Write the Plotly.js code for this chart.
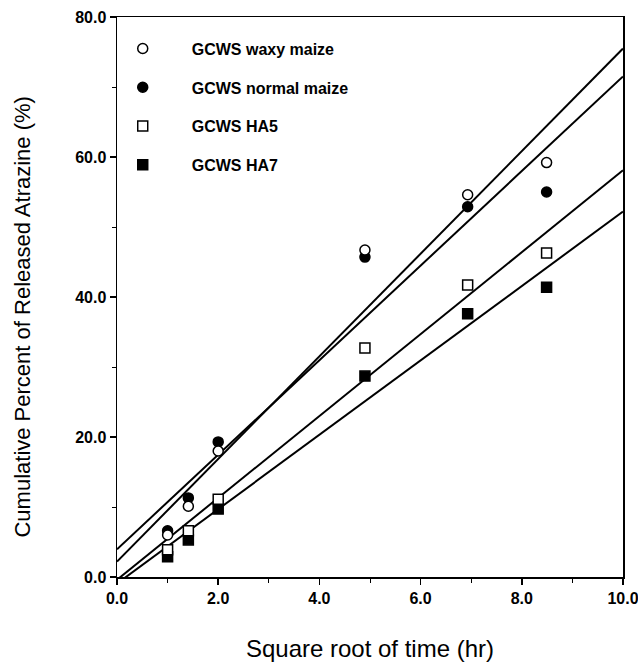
<!DOCTYPE html>
<html>
<head>
<meta charset="utf-8">
<script src="https://cdn.plot.ly/plotly-3.0.1.min.js"></script>
<style>
  html, body { margin: 0; padding: 0; background: #ffffff; }
  #chart { width: 638px; height: 666px; }
</style>
</head>
<body>
<div id="chart"></div>
<script>
// Square root of time (hr) at each sampling point
const sqrtTime = [1.0, 1.41, 2.0, 4.9, 6.93, 8.49];

// Cumulative percent of released atrazine (%)
const waxyMaize   = [6.0, 10.1, 18.0, 46.7, 54.6, 59.2];
const normalMaize = [6.6, 11.3, 19.3, 45.7, 52.9, 55.0];
const ha5         = [3.9, 6.6, 11.1, 32.7, 41.7, 46.3];
const ha7         = [2.9, 5.3, 9.7, 28.7, 37.6, 41.4];

// Linear fit lines, read at the axis ends (x = 0 and x = 10)
const fitX        = [0, 10];
const waxyFit     = [2.2, 75.5];
const normalFit   = [3.96, 71.5];
const ha5Fit      = [-0.4, 58.1];
const ha7Fit      = [-0.94, 52.2];

const seriesNames = ['GCWS waxy maize', 'GCWS normal maize', 'GCWS HA5', 'GCWS HA7'];
const xTitle = 'Square root of time (hr)';
const yTitle = 'Cumulative Percent of Released Atrazine (%)';

const lineStyle = { color: '#000000', width: 2 };
function fitTrace(y) {
  return { x: fitX, y: y, mode: 'lines', line: lineStyle, showlegend: false, hoverinfo: 'skip' };
}

const mSize = 10;
const traces = [
  fitTrace(waxyFit), fitTrace(normalFit), fitTrace(ha5Fit), fitTrace(ha7Fit),
  { x: sqrtTime, y: ha7, name: seriesNames[3], mode: 'markers', legendrank: 4, legendgroup: 'd',
    marker: { symbol: 'square', size: mSize, color: '#000000', line: { color: '#000000', width: 1.5 } } },
  { x: sqrtTime, y: ha5, name: seriesNames[2], mode: 'markers', legendrank: 3, legendgroup: 'c',
    marker: { symbol: 'square', size: mSize, color: '#ffffff', line: { color: '#000000', width: 1.5 } } },
  { x: sqrtTime, y: normalMaize, name: seriesNames[1], mode: 'markers', legendrank: 2, legendgroup: 'b',
    marker: { symbol: 'circle', size: mSize, color: '#000000', line: { color: '#000000', width: 1.5 } } },
  { x: sqrtTime, y: waxyMaize, name: seriesNames[0], mode: 'markers', legendrank: 1, legendgroup: 'a',
    marker: { symbol: 'circle', size: mSize, color: '#ffffff', line: { color: '#000000', width: 1.5 } } }
];

const fontFam = '"Liberation Sans", Arial, Helvetica, sans-serif';
const layout = {
  width: 638, height: 666,
  margin: { l: 117, r: 15, t: 17, b: 89 },
  paper_bgcolor: '#ffffff', plot_bgcolor: '#ffffff',
  font: { family: fontFam, color: '#000000' },
  showlegend: true,
  legend: {
    x: -0.046, y: 0.974, xanchor: 'left', yanchor: 'top',
    bgcolor: 'rgba(0,0,0,0)', borderwidth: 0,
    itemwidth: 88, tracegroupgap: 15, traceorder: 'grouped',
    font: { family: fontFam, size: 16, color: '#000000', weight: 'bold' }
  },
  xaxis: {
    range: [0, 10], dtick: 2, tick0: 0, tickformat: '.1f',
    showgrid: false, zeroline: false,
    showline: true, linecolor: '#000000', linewidth: 1.5, mirror: true,
    ticks: 'outside', ticklen: 6, tickwidth: 1.5, tickcolor: '#000000',
    ticklabeloverflow: 'allow',
    minor: { dtick: 1, ticklen: 4, tickwidth: 1, tickcolor: '#000000', showgrid: false },
    tickfont: { family: fontFam, size: 16, color: '#000000', weight: 'bold' },
    title: { text: xTitle, standoff: 34,
             font: { family: fontFam, size: 24, color: '#000000' } }
  },
  yaxis: {
    range: [0, 80], dtick: 20, tick0: 0, tickformat: '.1f',
    showgrid: false, zeroline: false,
    showline: true, linecolor: '#000000', linewidth: 1.5, mirror: true,
    ticks: 'outside', ticklen: 6, tickwidth: 1.5, tickcolor: '#000000',
    minor: { dtick: 10, ticklen: 4, tickwidth: 1, tickcolor: '#000000', showgrid: false },
    tickfont: { family: fontFam, size: 16, color: '#000000', weight: 'bold' }
  },
  annotations: [
    { text: yTitle, textangle: -90, showarrow: false,
      xref: 'paper', yref: 'paper', x: -0.187, y: 0.464, xanchor: 'center', yanchor: 'middle',
      font: { family: fontFam, size: 22, color: '#000000' } }
  ]
};

Plotly.newPlot('chart', traces, layout, { displayModeBar: false, staticPlot: true });
</script>
</body>
</html>
